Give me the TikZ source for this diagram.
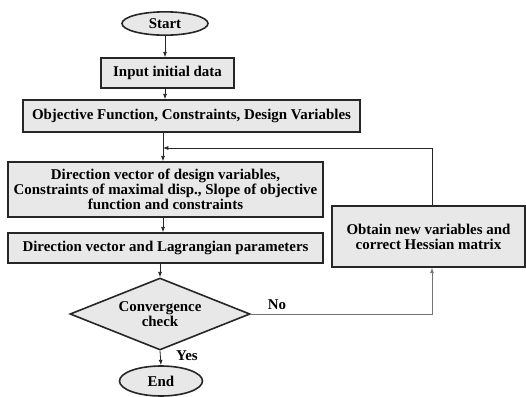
\documentclass[tikz,border=0pt]{standalone}
\usepackage{fontspec}
\setmainfont{Liberation Serif}
\usetikzlibrary{shapes.geometric,arrows.meta}
\definecolor{boxfill}{HTML}{E8E8E8}
\tikzset{
  box/.style={draw=black!85, line width=1.2pt, fill=boxfill, inner sep=1pt, align=center,
    font=\fontsize{11.2}{11.3}\selectfont\bfseries},
  oval/.style={box, ellipse},
  dia/.style={box, diamond, aspect=2.5, inner sep=0pt},
  conn/.style={draw=black!85, line width=0.6pt, -{Latex[length=4pt,width=3pt]}},
  gconn/.style={draw=black!55, line width=0.6pt},
  lbl/.style={font=\fontsize{11.2}{11.3}\selectfont\bfseries}
}
\begin{document}
\begin{tikzpicture}[x=0.75pt,y=-0.75pt]
\useasboundingbox (0,0) rectangle (526,397);
\node[oval, minimum width=64.5pt, minimum height=17.5pt] (start) at (165,23.5) {Start};
\node[box, minimum width=99.75pt, minimum height=22.5pt] (input) at (167.5,73) {Input initial data};
\node[box, minimum width=252.75pt, minimum height=24pt] (obj) at (191.5,116) {Objective Function, Constraints, Design Variables};
\node[box, minimum width=236.25pt, minimum height=41.25pt] (dir) at (165.5,189.5) {Direction vector of design variables,\\Constraints of maximal disp., Slope of objective\\function and constraints};
\node[box, minimum width=236.25pt, minimum height=22.5pt] (lag) at (165.5,248) {Direction vector and Lagrangian parameters};
\node[box, minimum width=144.75pt, minimum height=45.75pt] (obt) at (428.5,236.5) {Obtain new variables and\\correct Hessian matrix};
\node[dia, minimum width=135pt, minimum height=54pt] (conv) at (160,314) {Convergence\\check};
\node[oval, minimum width=62.25pt, minimum height=22.5pt] (end) at (161,381) {End};
\node[lbl] (no) at (277,305) {No};
\node[lbl] (yes) at (187,356) {Yes};
\coordinate (loop) at (432,148);
\coordinate (fb) at (163,148);
\coordinate (nox) at (432,314);
\draw[conn] (start.south) -- (start.south |- input.north);
\draw[conn] (input.south -| start.south) -- (start.south |- obj.north);
\draw[conn] (obj.south -| fb) -- (fb |- dir.north);
\draw[conn] (dir.south -| fb) -- (fb |- lag.north);
\draw[conn] (lag.south -| conv.north) -- (conv.north);
\draw[conn] (conv.south) -- (end.north);
\draw[gconn, -{Latex[length=4pt,width=3pt]}] (conv.east) -- (nox) -- (nox |- obt.south);
\draw[conn] (obt.north -| loop) -- (loop) -- (fb);
\end{tikzpicture}
\end{document}
